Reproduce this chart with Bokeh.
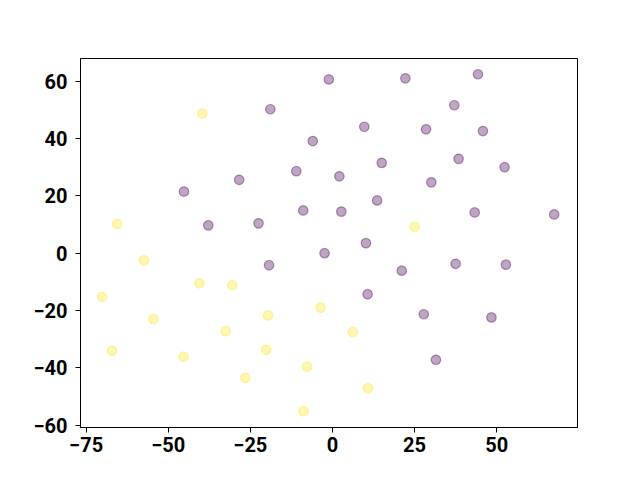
from bokeh.plotting import figure
from bokeh.models import Range1d, FixedTicker
from bokeh.embed import file_html
from bokeh.resources import INLINE

# class 0 (purple) points
purple_x = [-1.1, -18.9, -6.0, -11.0, -28.4, -45.2, -37.8, -22.5, -8.9, 22.2,
            44.3, 37.1, 9.7, 28.5, 45.8, 15.0, 38.4, 52.4, 2.1, 30.1,
            13.6, 2.7, 43.3, 67.5, 10.2, -19.3, -2.4, 21.1, 37.5, 52.8,
            10.7, 27.8, 48.4, 31.5]
purple_y = [60.6, 50.2, 39.1, 28.6, 25.6, 21.5, 9.7, 10.4, 14.9, 61.0,
            62.4, 51.6, 44.1, 43.2, 42.6, 31.5, 32.9, 30.0, 26.8, 24.7,
            18.4, 14.5, 14.2, 13.5, 3.5, -4.2, 0.0, -6.1, -3.7, -4.0,
            -14.3, -21.3, -22.4, -37.2]

# class 1 (yellow) points
yellow_x = [-39.6, -65.5, 25.0, -57.4, -70.1, -40.5, -30.5, -54.5, -19.6, -3.6,
            -32.5, -67.1, -45.3, -20.2, -7.7, -26.5, -8.8, 6.2, 10.8]
yellow_y = [48.7, 10.2, 9.2, -2.5, -15.2, -10.5, -11.2, -23.0, -21.7, -19.0,
            -27.2, -34.0, -36.1, -33.7, -39.6, -43.5, -55.1, -27.5, -47.1]

x_ticks = [-75, -50, -25, 0, 25, 50]
y_ticks = [-60, -40, -20, 0, 20, 40, 60]

def fmt(v):
    return str(v).replace("-", "\u2212")

p = figure(width=624, height=464, output_backend="svg", toolbar_location=None,
           x_range=Range1d(-76.7, 74.6), y_range=Range1d(-60.8, 67.9),
           min_border_left=80, min_border_top=58, min_border_right=47, min_border_bottom=37)

p.scatter(purple_x, purple_y, size=9.5, fill_color="#440154", line_color="#440154",
          fill_alpha=0.35, line_alpha=0.4, line_width=1.2)
p.scatter(yellow_x, yellow_y, size=9.5, fill_color="#fde725", line_color="#fde725",
          fill_alpha=0.35, line_alpha=0.4, line_width=1.2)

p.xgrid.visible = False
p.ygrid.visible = False
p.outline_line_color = "black"
p.outline_line_alpha = 1
p.outline_line_width = 1

p.xaxis.ticker = FixedTicker(ticks=x_ticks)
p.yaxis.ticker = FixedTicker(ticks=y_ticks)
p.xaxis.major_label_overrides = {v: fmt(v) for v in x_ticks}
p.yaxis.major_label_overrides = {v: fmt(v) for v in y_ticks}

for ax in (p.xaxis, p.yaxis):
    ax.minor_tick_line_color = None
    ax.major_tick_in = 0
    ax.major_tick_out = 5
    ax.major_tick_line_color = "black"
    ax.axis_line_color = "black"
    ax.major_label_text_font = "Roboto"
    ax.major_label_text_font_style = "bold"
    ax.major_label_text_font_size = "20px"
    ax.major_label_text_color = "black"
p.xaxis.major_label_standoff = 4
p.yaxis.major_label_standoff = 8

p.background_fill_color = "white"
p.border_fill_color = "white"

open("out.html", "w").write(file_html(p, INLINE))
